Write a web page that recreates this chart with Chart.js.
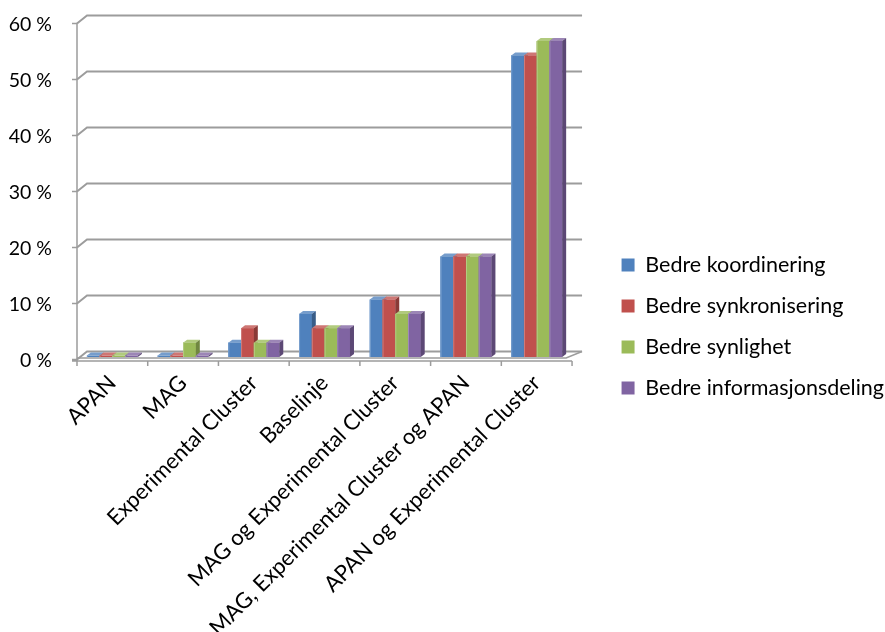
<!DOCTYPE html>
<html>
<head>
<meta charset="utf-8">
<script src="https://cdn.jsdelivr.net/npm/chart.js@4.4.1/dist/chart.umd.min.js"></script>
<style>
  html, body { margin: 0; padding: 0; background: #ffffff; }
  #wrap { width: 885px; height: 632px; }
</style>
</head>
<body>
<div id="wrap"><canvas id="c" width="885" height="632"></canvas></div>
<script>
// Categories along the x axis
const categories = [
  'APAN',
  'MAG',
  'Experimental Cluster',
  'Baselinje',
  'MAG og Experimental Cluster',
  'MAG, Experimental Cluster og APAN',
  'APAN og Experimental Cluster'
];

// Series names
const seriesNames = [
  'Bedre koordinering',
  'Bedre synkronisering',
  'Bedre synlighet',
  'Bedre informasjonsdeling'
];

// Share of respondents (%) per category
const koordinering       = [0, 0, 2.56, 7.69, 10.26, 17.95, 53.85];
const synkronisering     = [0, 0, 5.13, 5.13, 10.26, 17.95, 53.85];
const synlighet          = [0, 2.56, 2.56, 5.13, 7.69, 17.95, 56.41];
const informasjonsdeling = [0, 0, 2.56, 5.13, 7.69, 17.95, 56.41];

// Value axis ticks
const yTicks = [0, 10, 20, 30, 40, 50, 60];
const yTickLabels = yTicks.map(v => v + ' %');

const seriesColors = ['#4F81BD', '#C0504D', '#9BBB59', '#8064A2'];
const seriesValues = [koordinering, synkronisering, synlighet, informasjonsdeling];

const FONT = 'Lato, "Open Sans", sans-serif';

// depth offsets for the pseudo-3D look
const FRONT_DY = 2.5;               // front axis plane vs. bar plane
const BACK_DX = 10, BACK_DY = -5.5; // back wall vs. bar plane
const BAR_DX = 4, BAR_DY = -3;      // bar depth
const GRID = '#9c9c9c';

function shade(hex, f) {
  const n = parseInt(hex.slice(1), 16);
  let r = (n >> 16) & 255, g = (n >> 8) & 255, b = n & 255;
  if (f < 0) { r *= 1 + f; g *= 1 + f; b *= 1 + f; }
  else { r += (255 - r) * f; g += (255 - g) * f; b += (255 - b) * f; }
  return 'rgb(' + Math.round(r) + ',' + Math.round(g) + ',' + Math.round(b) + ')';
}

const wallsAndBars = {
  id: 'wallsAndBars',
  beforeDatasetsDraw(chart) {
    const ctx = chart.ctx;
    const { left: L, right: R } = chart.chartArea;
    const ys = chart.scales.y;
    const y0 = ys.getPixelForValue(0);
    ctx.save();
    ctx.strokeStyle = GRID;
    ctx.lineWidth = 2;
    ctx.lineCap = 'butt';
    // back wall gridlines with their diagonal link to the axis
    yTicks.forEach(v => {
      const y = ys.getPixelForValue(v);
      ctx.beginPath();
      ctx.moveTo(L, y + FRONT_DY);
      ctx.lineTo(L + BACK_DX, y + BACK_DY);
      ctx.lineTo(R + BACK_DX, y + BACK_DY);
      ctx.stroke();
    });
    // floor front edge and right edge
    ctx.lineWidth = 1.5;
    ctx.beginPath();
    ctx.moveTo(L, y0 + 1);
    ctx.lineTo(R - 6, y0 + 1);
    ctx.lineTo(R + BACK_DX, y0 + BACK_DY);
    ctx.stroke();
    // axes
    const axY = y0 + FRONT_DY + 1.5;
    ctx.lineWidth = 1.5;
    ctx.beginPath();
    ctx.moveTo(L, ys.getPixelForValue(60) + FRONT_DY);
    ctx.lineTo(L, axY);
    ctx.moveTo(L - 5, axY);
    ctx.lineTo(R, axY);
    yTicks.forEach(v => {
      const y = ys.getPixelForValue(v) + FRONT_DY;
      ctx.moveTo(L - 5, y);
      ctx.lineTo(L, y);
    });
    const n = categories.length;
    for (let k = 0; k <= n; k++) {
      const x = L + (R - L) * k / n;
      ctx.moveTo(x, axY);
      ctx.lineTo(x, axY + 5);
    }
    ctx.stroke();
    // value axis labels
    ctx.fillStyle = '#000';
    ctx.font = '19.5px ' + FONT;
    ctx.textAlign = 'right';
    ctx.textBaseline = 'middle';
    yTicks.forEach((v, i) => {
      ctx.fillText(yTickLabels[i], L - 25, ys.getPixelForValue(v) + FRONT_DY + 1);
    });
    ctx.restore();
  },
  afterDatasetsDraw(chart) {
    const ctx = chart.ctx;
    ctx.save();
    const metas = seriesValues.map((_, i) => chart.getDatasetMeta(i));
    for (let c = 0; c < categories.length; c++) {
      metas.forEach((meta, s) => {
        const el = meta.data[c];
        const col = seriesColors[s];
        const w = el.width;
        const x1 = el.x - w / 2, x2 = el.x + w / 2;
        let top = el.y, base = el.base;
        if (base - top < 1.5) top = base - 1.5;
        // front face
        ctx.fillStyle = col;
        ctx.fillRect(x1, top, w, base - top);
        ctx.fillStyle = shade(col, 0.25);
        ctx.fillRect(x1, top, 1, base - top);
        // top face
        ctx.fillStyle = shade(col, 0.22);
        ctx.beginPath();
        ctx.moveTo(x1, top);
        ctx.lineTo(x1 + BAR_DX, top + BAR_DY);
        ctx.lineTo(x2 + BAR_DX, top + BAR_DY);
        ctx.lineTo(x2, top);
        ctx.closePath();
        ctx.fill();
        // side face
        ctx.fillStyle = shade(col, -0.28);
        ctx.beginPath();
        ctx.moveTo(x2, top);
        ctx.lineTo(x2 + BAR_DX, top + BAR_DY);
        ctx.lineTo(x2 + BAR_DX, base + BAR_DY);
        ctx.lineTo(x2, base);
        ctx.closePath();
        ctx.fill();
      });
    }
    ctx.restore();
  }
};

new Chart(document.getElementById('c'), {
  type: 'bar',
  data: {
    labels: categories,
    datasets: seriesValues.map((vals, i) => ({
      label: seriesNames[i],
      data: vals,
      backgroundColor: seriesColors[i],
      borderWidth: 0,
      categoryPercentage: 0.72,
      barPercentage: 1.0
    }))
  },
  options: {
    responsive: false,
    devicePixelRatio: 1,
    animation: false,
    layout: { padding: { top: 21, right: -9, left: 77, bottom: 0 } },
    plugins: {
      tooltip: { enabled: false },
      legend: {
        position: 'right',
        labels: {
          boxWidth: 13,
          boxHeight: 13,
          padding: 19.5,
          color: '#000',
          font: { family: FONT, size: 21.5 }
        }
      }
    },
    scales: {
      y: {
        display: false,
        min: 0,
        max: 60
      },
      // spacer between plot and legend
      gap: {
        position: 'right',
        display: false,
        afterFit(s) { s.width = 30; }
      },
      x: {
        afterFit(s) { s.height = 275; },
        ticks: {
          autoSkip: false,
          minRotation: 45,
          maxRotation: 45,
          color: '#000',
          padding: 13,
          font: { family: FONT, size: 22 }
        },
        grid: { display: false, drawTicks: false },
        border: { display: false }
      }
    }
  },
  plugins: [wallsAndBars]
});
</script>
</body>
</html>
